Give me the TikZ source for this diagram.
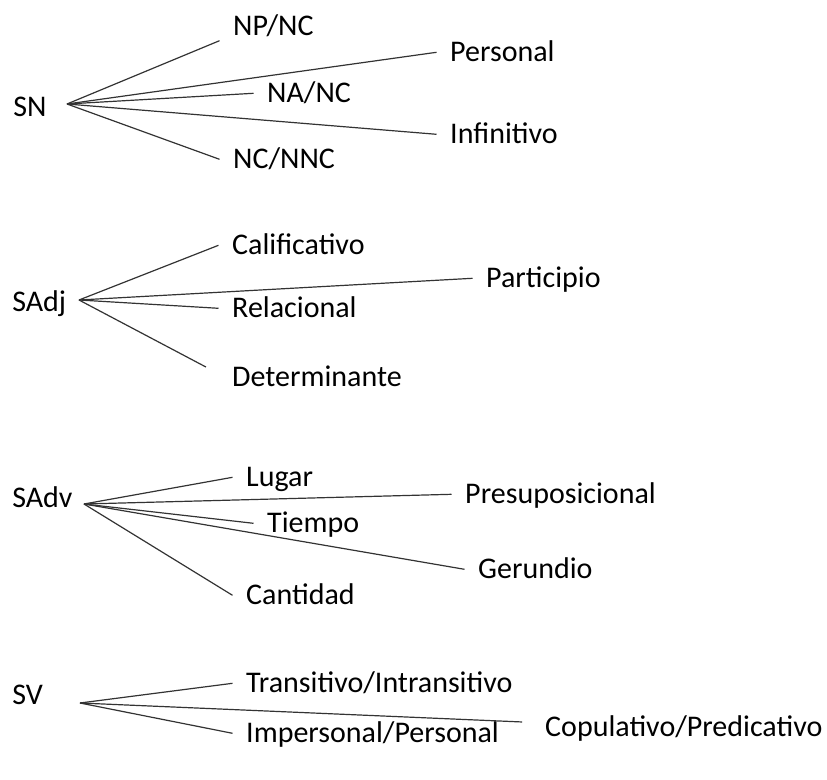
\documentclass[tikz,border=0pt]{standalone}
\usepackage{fontspec}
\setmainfont{Carlito}

\begin{document}
\begin{tikzpicture}[x=0.75pt,y=-0.75pt,
  word/.style={anchor=west,inner xsep=10.1pt,inner ysep=0pt,
    text height=14.5pt,text depth=0pt,font=\fontsize{22.5}{27}\selectfont},
  head/.style={word,inner xsep=0pt},
  branch/.style={line width=0.9pt,black!80}]
  \useasboundingbox (0,0) rectangle (827,780);

  % SN
  \node[head] (sn) at (13,107.3) {SN};
  \coordinate (snfork) at (67,104);
  \node[word] (npnc) at (219.5,26.3) {NP/NC};
  \node[word] (personal) at (436.5,52.3) {Personal};
  \node[word] (nanc) at (253.5,93.3) {NA/NC};
  \node[word] (infinitivo) at (436.5,134.3) {Infinitivo};
  \node[word] (ncnnc) at (219.5,159.3) {NC/NNC};
  \draw[branch] (snfork) -- ([yshift=-10.8pt]npnc.west);
  \foreach \leaf in {personal,nanc,infinitivo,ncnnc}
    \draw[branch] (snfork) -- (\leaf.west);

  % SAdj
  \node[head] (sadj) at (12,302.3) {SAdj};
  \coordinate (sadjfork) at (79,300);
  \node[word] (calificativo) at (218.5,245.3) {Calificativo};
  \node[word] (participio) at (472.5,278.3) {Participio};
  \node[word] (relacional) at (218.5,308.3) {Relacional};
  \node[word] (determinante) at (218.5,377.3) {Determinante};
  \foreach \leaf in {calificativo,participio,relacional}
    \draw[branch] (sadjfork) -- (\leaf.west);
  \draw[branch] (sadjfork) -- ([xshift=-9.4pt,yshift=7.7pt]determinante.west);

  % SAdv
  \node[head] (sadv) at (12,498.3) {SAdv};
  \coordinate (sadvfork) at (84,504);
  \node[word] (lugar) at (232.5,477.3) {Lugar};
  \node[word] (presuposicional) at (451.5,494.3) {Presuposicional};
  \node[word] (tiempo) at (253.5,523.3) {Tiempo};
  \node[word] (gerundio) at (464.5,569.3) {Gerundio};
  \node[word] (cantidad) at (232.5,595.3) {Cantidad};
  \foreach \leaf in {lugar,presuposicional,tiempo,gerundio,cantidad}
    \draw[branch] (sadvfork) -- (\leaf.west);

  % SV
  \node[head] (sv) at (12,695.3) {SV};
  \coordinate (svfork) at (80,703);
  \node[word] (transitivo) at (232.5,683.3) {Transitivo/Intransitivo};
  \node[word] (copulativo) at (531.5,727.3) {Copulativo/Predicativo};
  \node[word] (impersonal) at (232.5,733.3) {Impersonal/Personal};
  \draw[branch] (svfork) -- ([xshift=-7.1pt,yshift=4pt]copulativo.west);
  \foreach \leaf in {transitivo,impersonal}
    \draw[branch] (svfork) -- (\leaf.west);
\end{tikzpicture}
\end{document}
